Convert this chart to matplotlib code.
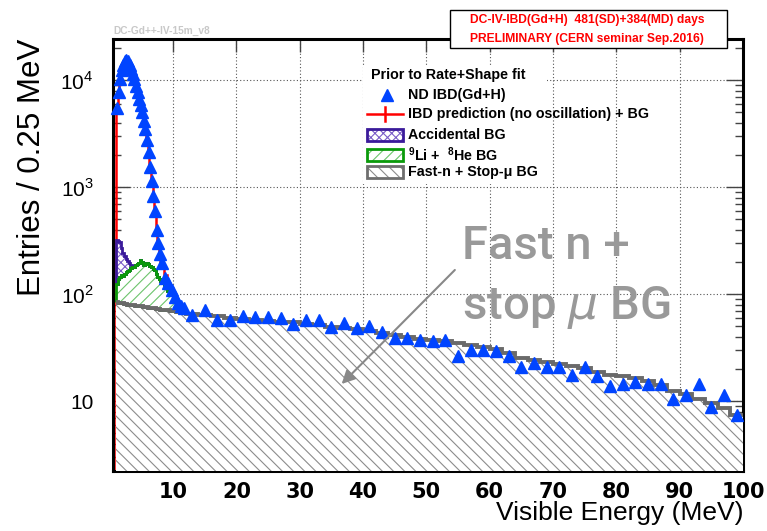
import numpy as np
import matplotlib.pyplot as plt
from matplotlib.patches import Rectangle
from matplotlib.lines import Line2D
from matplotlib.ticker import FixedLocator, LogLocator, NullLocator, NullFormatter

plt.rcParams['font.family'] = 'Liberation Sans'
plt.rcParams['mathtext.fontset'] = 'custom'
plt.rcParams['mathtext.rm'] = 'Liberation Sans'
plt.rcParams['mathtext.bf'] = 'Liberation Sans:bold'
plt.rcParams['mathtext.it'] = 'DejaVu Sans:italic'
plt.rcParams['hatch.linewidth'] = 0.8

W, H = 767, 531

# variable binning: 0.25 MeV up to 8 MeV, 0.5 MeV up to 12 MeV, 2 MeV above
edges = np.concatenate([np.arange(1.0, 8.0, 0.25),
                        np.arange(8.0, 12.0, 0.5),
                        np.arange(12.0, 100.01, 2.0)])
centers = 0.5 * (edges[:-1] + edges[1:])

# ND IBD(Gd+H) candidates, entries / 0.25 MeV
data_fine = [5500, 7800, 10300, 12400, 14000, 15000, 15500, 15200, 14000, 12700,
             11500, 10200, 8900, 7700, 6700, 5900, 5100, 4200, 3500, 2750,
             2150, 1550, 1150, 830, 600, 400, 300, 240]
data_mid = [195, 142, 128, 110, 95, 82, 77, 74]
data_high = [64, 72, 58, 57, 62, 61, 61, 60, 53, 58,
             57, 49, 54, 48, 50.5, 44.7, 38.8, 38.8, 37.5, 36.6,
             37.3, 26.5, 30.1, 30.1, 29.7, 26.5, 21, 22.6, 21, 20.8,
             17.6, 20.8, 17.2, 13.9, 14.6, 15.2, 14.4, 14.6, 10.4, 11.5,
             14.6, 8.8, 11.5, 7.4]

# IBD prediction (no oscillation) + BG, below 12 MeV
pred = [5600, 7900, 10300, 12500, 14100, 15000, 15300, 15000, 14100, 12900,
        11600, 10200, 8900, 7700, 6700, 5800, 5000, 4200, 3450, 2750,
        2100, 1550, 1130, 800, 580, 410, 300, 230,
        185, 150, 125, 108, 95, 85, 78, 72]

# backgrounds
fastn = [84, 83, 83, 82, 82, 81, 81, 80, 80, 80, 79, 79, 78, 78, 78, 77, 77, 76, 76, 76,
         75, 75, 75, 74, 74, 73, 73, 73,
         72, 72, 71, 70, 70, 69, 69, 68,
         66, 64, 62, 60.5, 59, 58, 56.5, 55.5, 54.5, 53,
         51.5, 49.5, 48.5, 47, 45.5, 43.5, 41.5, 40, 38.5, 37.5,
         36.3, 35, 33.7, 32, 30.5, 28.5, 25.5, 24.3, 23.3, 22.5,
         21.5, 20.3, 18.8, 17.7, 17.2, 16.4, 15.4, 14.2, 12.6, 11.6,
         10.5, 9.6, 8.6, 7.4]
li9 = [41, 57, 63, 68, 66, 74, 79, 85, 90, 95, 101, 99, 108, 112, 118, 131, 123, 112, 116, 119,
       115, 108, 105, 98, 94, 82, 73, 67,
       60, 46, 37, 30, 16, 7, 1, 0]
accidental = [197, 178, 159, 120, 97, 73, 55, 40, 25, 12, 3,
              2, 2, 1.5, 1.5, 1, 1, 1, 1, 0.8, 0.8, 0.6, 0.6, 0.5, 0.5,
              0.4, 0.4, 0.3, 0.3, 0.2, 0.2, 0.2, 0.1, 0.1, 0.1, 0.1]

data = np.array(data_fine + data_mid + data_high)
fastn = np.array(fastn, dtype=float)
n_low = len(li9)
edges_low = edges[:n_low + 1]
li9_top = fastn[:n_low] + np.array(li9)
acc_top = li9_top + np.array(accidental)

fig = plt.figure(figsize=(W / 100, H / 100), dpi=100)
ax = fig.add_axes([113 / W, 60 / H, 630 / W, 432 / H])
ax.set_yscale('log')
ax.set_xlim(0.5, 100)
ax.set_ylim(2.23, 2.43e4)

# prediction line sits under the stacked backgrounds
ax.stairs(pred, edges_low, baseline=1, color='red', lw=1.8, zorder=2)

# stacked backgrounds: fast-n, then 9Li, then accidentals on top
ax.stairs(fastn, edges, baseline=1, fill=True, facecolor='white',
          edgecolor='#8c8c8c', hatch='\\\\\\', lw=0, zorder=3)
ax.stairs(li9_top, edges_low, baseline=fastn[:n_low], fill=True, facecolor='white',
          edgecolor='#6cc46c', hatch='///', lw=0, zorder=3)
ax.stairs(acc_top, edges_low, baseline=li9_top, fill=True, facecolor='white',
          edgecolor='#7a5cc8', hatch='xxxx', lw=0, zorder=3)
ax.stairs(acc_top, edges_low, baseline=li9_top, color='#3a1a9a', lw=2, zorder=4)
ax.stairs(li9_top, edges_low, baseline=fastn[:n_low], color='#0a9a0a', lw=2, zorder=4.1)
ax.stairs(fastn, edges, baseline=None, color='#6a6a6a', lw=2.8, zorder=4.2)

blue = '#0044ff'
ax.plot(centers, data, ls='none', marker='^', ms=9, color=blue, zorder=6, clip_on=False)

# axes styling
ax.set_xticks(np.arange(10, 101, 10))
ax.set_xticklabels([str(v) for v in range(10, 101, 10)], fontsize=15,
                   fontweight='bold', family='DejaVu Sans')
ax.xaxis.set_minor_locator(NullLocator())
ax.yaxis.set_major_locator(FixedLocator([10, 100, 1000, 10000]))
ax.set_yticklabels(['10', r'$10^{2}$', r'$10^{3}$', r'$10^{4}$'], fontsize=15)
ax.yaxis.set_minor_locator(LogLocator(base=10, subs=np.arange(2, 10)))
ax.yaxis.set_minor_formatter(NullFormatter())
ax.tick_params(which='both', direction='in', top=True, right=True, color='#444444', width=1)
ax.tick_params(axis='x', which='major', length=9, pad=8)
ax.tick_params(axis='y', which='major', length=12, pad=14)
ax.tick_params(axis='y', which='minor', length=6)
for s in ax.spines.values():
    s.set_linewidth(2.2)
ax.set_axisbelow(True)
ax.grid(True, which='major', linestyle=(0, (1, 2)), color='#555555', lw=0.8)

ax.set_xlabel('Visible Energy (MeV)', loc='right', fontsize=19)
ax.xaxis.set_label_coords(1.0, -0.07)
ax.set_ylabel('Entries / 0.25 MeV', loc='top', fontsize=22.5)
ax.yaxis.set_label_coords(-0.104, 1.0)


def P(x, y):
    return x / W, 1 - y / H


# legend drawn by hand
fig.add_artist(Rectangle(P(363, 184), 184 / W, 117 / H, transform=fig.transFigure,
                         facecolor='white', edgecolor='none', zorder=5))
fig.text(*P(371, 75), 'Prior to Rate+Shape fit', fontsize=10.3, fontweight='bold',
         va='center', zorder=6)
rows = [95, 114, 135, 155, 172]
labels = ['ND IBD(Gd+H)', 'IBD prediction (no oscillation) + BG', 'Accidental BG',
          r'$^{\mathbf{9}}$Li +  $^{\mathbf{8}}$He BG', 'Fast-n + Stop-\u03bc BG']
for y, lab in zip(rows, labels):
    fig.text(*P(408, y), lab, fontsize=10.3, fontweight='bold', va='center', zorder=6)
fig.add_artist(Line2D([387 / W], [1 - 95 / H], marker='^', ms=9, color=blue, ls='none',
                      transform=fig.transFigure, zorder=6))
fig.add_artist(Line2D([367 / W, 403 / W], [1 - 114 / H] * 2, color='red', lw=1.8,
                      transform=fig.transFigure, zorder=6))
fig.add_artist(Line2D([385 / W] * 2, [1 - 107 / H, 1 - 121 / H], color='red', lw=1.8,
                      transform=fig.transFigure, zorder=6))
boxes = [(135, '#7a5cc8', '#3a1a9a', 'xxxx'),
         (155, '#6cc46c', '#0a9a0a', '///'),
         (172, '#8c8c8c', '#6e6e6e', '\\\\\\')]
for y, hc, ec, hatch in boxes:
    fig.add_artist(Rectangle(P(367, y + 6), 36 / W, 12 / H, transform=fig.transFigure,
                             facecolor='white', edgecolor=hc, hatch=hatch, lw=0, zorder=6))
    fig.add_artist(Rectangle(P(367, y + 6), 36 / W, 12 / H, transform=fig.transFigure,
                             facecolor='none', edgecolor=ec, lw=2, zorder=6.1))

# header boxes
fig.text(*P(113, 31), 'DC-Gd++-IV-15m_v8', fontsize=7.3, fontweight='bold',
         color='#c8c8c8', va='center')
fig.add_artist(Rectangle(P(450, 48), 277 / W, 38 / H, transform=fig.transFigure,
                         facecolor='white', edgecolor='black', lw=1, zorder=5))
fig.text(*P(587, 19.5), 'DC-IV-IBD(Gd+H)  481(SD)+384(MD) days', fontsize=8.7,
         fontweight='bold', color='red', ha='center', va='center', zorder=6)
fig.text(*P(587, 39), 'PRELIMINARY (CERN seminar Sep.2016)', fontsize=8.7,
         fontweight='bold', color='red', ha='center', va='center', zorder=6)

# fast-n / stopping muon callout
fig.text(*P(462, 259), 'Fast n +', fontsize=34, color='#999999', family='Roboto',
         fontweight='medium', va='baseline', zorder=6)
fig.text(*P(462, 319), r'stop $\mu$ BG', fontsize=34, color='#999999', family='Roboto',
         fontweight='medium', va='baseline', zorder=6)
ax.annotate('', xy=(36.3, 13.9), xytext=(54.8, 176),
            arrowprops=dict(arrowstyle='-|>', color='#888888', lw=1.5, mutation_scale=20),
            zorder=6)

fig.savefig('out.png', dpi=100)
